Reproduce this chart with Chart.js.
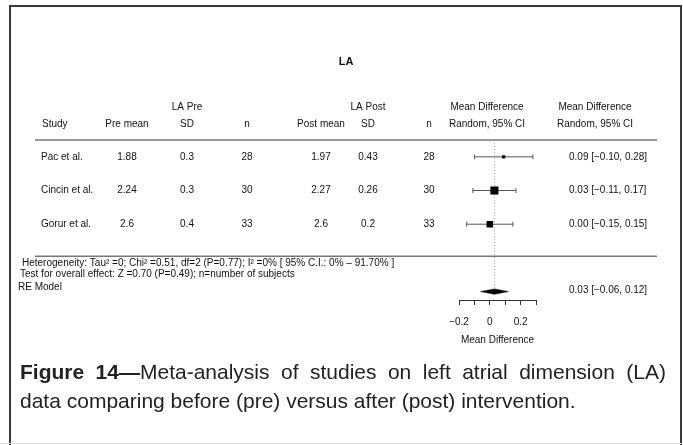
<!DOCTYPE html>
<html>
<head>
<meta charset="utf-8">
<script src="https://cdn.jsdelivr.net/npm/chart.js@4"></script>
<style>
  html, body { margin: 0; padding: 0; background: #fff; }
  #wrap { position: relative; width: 683px; height: 445px; overflow: hidden; }
  #frame { position: absolute; left: 9px; top: 5px; width: 669px; height: 460px;
           border: 2px solid #3a3a3a; border-bottom: none; }
  #bottomLine { position: absolute; left: 0; top: 443px; width: 683px; height: 1px; background: #ddd; }
  #forest { position: absolute; left: 0; top: 0; }
  .cap { position: absolute; left: 20px; font-family: "Liberation Sans", Arial, sans-serif;
         font-size: 21px; line-height: 29px; color: #222; white-space: nowrap; }
  #cap1 { top: 357px; width: 646px; white-space: normal; text-align: justify; text-align-last: justify; }
  #cap2 { top: 386px; }
  .cap b { font-weight: bold; }
</style>
</head>
<body>
<div id="wrap">
  <div id="frame"></div>
  <div id="bottomLine"></div>
  <canvas id="forest" width="683" height="445"></canvas>
  <div class="cap" id="cap1"><b>Figure 14—</b>Meta-analysis of studies on left atrial dimension (LA)</div>
  <div class="cap" id="cap2">data comparing before (pre) versus after (post) intervention.</div>
</div>
<script>
const studies = ["Pac et al.", "Cincin et al.", "Gorur et al."];
const preMean = [1.88, 2.24, 2.6];
const preSD = [0.3, 0.3, 0.4];
const preN = [28, 30, 33];
const postMean = [1.97, 2.27, 2.6];
const postSD = [0.43, 0.26, 0.2];
const postN = [28, 30, 33];
const meanDiff = [0.09, 0.03, 0.0];
const ciLow = [-0.10, -0.11, -0.15];
const ciHigh = [0.28, 0.17, 0.15];

const reEstimate = 0.03;
const reLow = -0.06;
const reHigh = 0.12;

const xTicks = [-0.2, 0, 0.2];
const heterogeneity = "Heterogeneity: Tau\u00b2 =0; Chi\u00b2 =0.51, df=2 (P=0.77); I\u00b2 =0% [ 95% C.I.: 0% \u2013 91.70% ]";
const overallTest = "Test for overall effect: Z =0.70 (P=0.49); n=number of subjects";

const summaryRow = 5;
const sepRow = 3.95;

function fmt(v) {
  return v.toFixed(2).replace("-", "\u2212");
}

// inverse-variance weight -> marker size
const weights = ciLow.map((lo, i) => {
  const se = (ciHigh[i] - lo) / 3.92;
  return 1 / (se * se);
});
const maxW = Math.max(...weights);
const markerRadius = weights.map(w => 5.7 * Math.pow(w / maxW, 1.5));

const FONT = '"Liberation Sans", Arial, sans-serif';

const tablePlugin = {
  id: "table",
  afterDraw(chart) {
    const ctx = chart.ctx;
    const y = chart.scales.y;
    const top = y.getPixelForValue(0.5);
    const sep = y.getPixelForValue(sepRow);
    ctx.save();

    // rules
    ctx.strokeStyle = "#777";
    ctx.lineWidth = 1.4;
    [top, sep].forEach(py => {
      ctx.beginPath();
      ctx.moveTo(35, py);
      ctx.lineTo(657, py);
      ctx.stroke();
    });

    ctx.fillStyle = "#111";
    ctx.textBaseline = "middle";

    // title
    ctx.font = "bold 11px " + FONT;
    ctx.textAlign = "center";
    ctx.fillText("LA", 346, top - 78);

    // headers
    ctx.font = "10px " + FONT;
    const h1 = top - 33, h2 = top - 16;
    ctx.fillText("LA Pre", 187, h1);
    ctx.fillText("LA Post", 368, h1);
    ctx.fillText("Mean Difference", 487, h1);
    ctx.fillText("Mean Difference", 595, h1);
    ctx.fillText("Pre mean", 127, h2);
    ctx.fillText("SD", 187, h2);
    ctx.fillText("n", 247, h2);
    ctx.fillText("Post mean", 321, h2);
    ctx.fillText("SD", 368, h2);
    ctx.fillText("n", 429, h2);
    ctx.fillText("Random, 95% CI", 487, h2);
    ctx.fillText("Random, 95% CI", 595, h2);
    ctx.textAlign = "left";
    ctx.fillText("Study", 42, h2);

    // study rows
    studies.forEach((s, i) => {
      const py = y.getPixelForValue(i + 1);
      ctx.textAlign = "left";
      ctx.fillText(s, 41, py);
      ctx.fillText(fmt(meanDiff[i]) + " [" + fmt(ciLow[i]) + ", " + fmt(ciHigh[i]) + "]", 569, py);
      ctx.textAlign = "center";
      ctx.fillText(String(preMean[i]), 127, py);
      ctx.fillText(String(preSD[i]), 187, py);
      ctx.fillText(String(preN[i]), 247, py);
      ctx.fillText(String(postMean[i]), 321, py);
      ctx.fillText(String(postSD[i]), 368, py);
      ctx.fillText(String(postN[i]), 429, py);
    });

    // summary
    const sy = y.getPixelForValue(summaryRow);
    ctx.textAlign = "left";
    ctx.fillText(fmt(reEstimate) + " [" + fmt(reLow) + ", " + fmt(reHigh) + "]", 569, sy - 1);
    ctx.font = "10px " + FONT;
    ctx.fillText(heterogeneity, 22, sep + 7);
    ctx.fillText(overallTest, 20, sep + 18);
    ctx.fillText("RE Model", 18, sy - 4);
    ctx.restore();
  }
};

const ciSets = studies.map((s, i) => ({
  label: s,
  type: "line",
  data: [{ x: ciLow[i], y: i + 1 }, { x: ciHigh[i], y: i + 1 }],
  borderColor: "#555",
  borderWidth: 1,
  pointStyle: "line",
  rotation: 90,
  pointRadius: 2.5,
  pointBorderColor: "#555",
  pointBorderWidth: 1,
  order: 2,
  clip: false,
}));

const diamondHalf = 0.08;

new Chart(document.getElementById("forest").getContext("2d"), {
  type: "scatter",
  data: {
    datasets: [
      {
        label: "estimate line",
        type: "line",
        data: [{ x: reEstimate, y: 0.5 }, { x: reEstimate, y: summaryRow }],
        borderColor: "#aaa",
        borderWidth: 1,
        borderDash: [1, 2],
        pointRadius: 0,
        order: 5,
        clip: false,
      },
      ...ciSets,
      {
        label: "Mean difference",
        data: meanDiff.map((v, i) => ({ x: v, y: i + 1 })),
        pointStyle: "rect",
        pointRadius: markerRadius,
        backgroundColor: "#000",
        borderColor: "#000",
        borderWidth: 0,
        order: 1,
        clip: false,
      },
      {
        label: "RE Model",
        type: "line",
        data: [
          { x: reLow, y: summaryRow },
          { x: reEstimate, y: summaryRow - diamondHalf },
          { x: reHigh, y: summaryRow },
          { x: reEstimate, y: summaryRow + diamondHalf },
          { x: reLow, y: summaryRow },
        ],
        borderColor: "#000",
        borderWidth: 0.5,
        backgroundColor: "#000",
        fill: "shape",
        pointRadius: 0,
        tension: 0,
        order: 1,
        clip: false,
      },
    ],
  },
  options: {
    responsive: false,
    animation: false,
    layout: {
      padding: { left: 459, right: 147, top: 140, bottom: 99 },
    },
    plugins: {
      legend: { display: false },
      tooltip: { enabled: false },
    },
    scales: {
      x: {
        type: "linear",
        min: -0.2,
        max: 0.3,
        border: { display: true, color: "#333", width: 1 },
        grid: {
          drawOnChartArea: false,
          drawTicks: true,
          tickLength: 5,
          tickColor: "#333",
        },
        ticks: {
          stepSize: 0.1,
          autoSkip: false,
          maxRotation: 0,
          padding: 11,
          color: "#111",
          font: { family: FONT, size: 10 },
          callback: function (value) {
            const hit = xTicks.find(t => Math.abs(t - value) < 1e-9);
            if (hit === undefined) return "";
            return hit === 0 ? "0" : fmt(hit).replace(/0$/, "");
          },
        },
        title: {
          display: true,
          text: "Mean Difference",
          color: "#111",
          font: { family: FONT, size: 10 },
          padding: { top: -5, bottom: 0 },
        },
      },
      y: {
        type: "linear",
        display: false,
        reverse: true,
        min: 0.5,
        max: 5.25,
      },
    },
  },
  plugins: [tablePlugin],
});
</script>
</body>
</html>
